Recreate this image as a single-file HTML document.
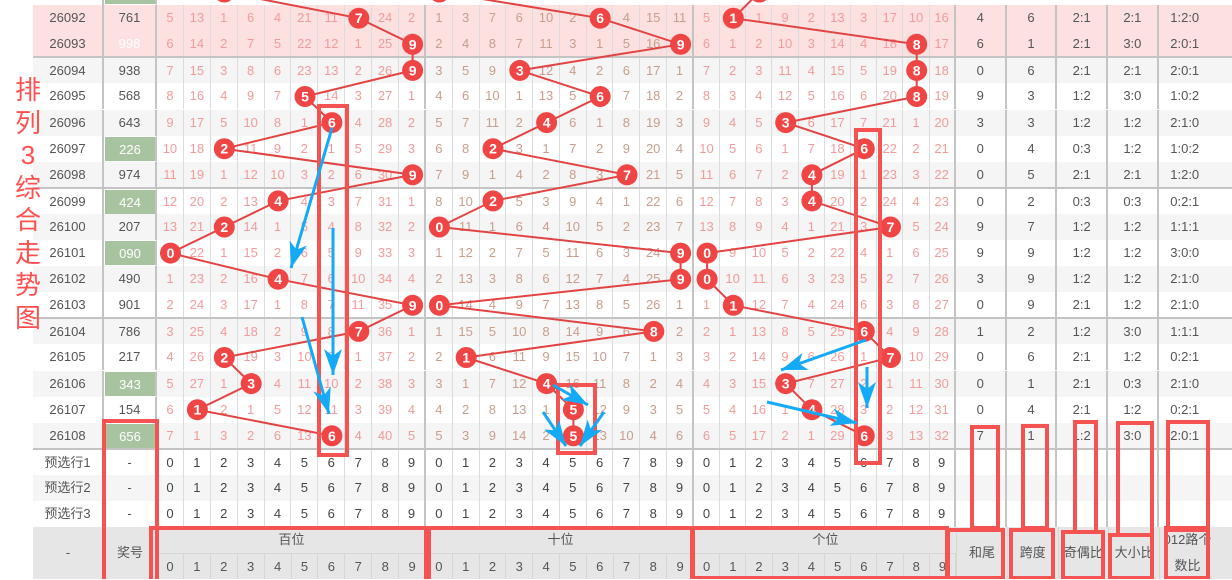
<!DOCTYPE html>
<html><head><meta charset="utf-8">
<style>
*{margin:0;padding:0}
body{width:1232px;height:579px;position:relative;overflow:hidden;background:#fff;font-family:"Liberation Sans","Noto Sans CJK SC",sans-serif}
.t{position:absolute;z-index:5;left:13px;top:74px;width:30px;color:#ff5050;font-size:26px;line-height:32.5px;text-align:center;font-family:"Liberation Sans","Noto Sans CJK SC",sans-serif}
.r{position:absolute;left:33px;width:1199px;height:26.1px;display:flex;font-size:13px;color:#555;background:#fff}
.r.g{background:#f5f5f5}.r.k{background:#fde1e1}.r.s{border-top:2px solid #c4c4c4;margin-top:-1px}
.r>i{font-style:normal;flex:none;text-align:center;line-height:26px;border-right:1px solid #dcdcdc;box-sizing:border-box;height:100%;white-space:nowrap}
.r>i:nth-child(1){width:71px;border-right:2px solid #c4c4c4}
.r>i:nth-child(2){width:53px;border-right:2px solid #c4c4c4}
.r>i:nth-child(n+3):nth-child(-n+12){width:26.9px;color:#f39b9b}
.r>i:nth-child(n+13):nth-child(-n+22){width:26.8px;color:#c89e8e}
.r>i:nth-child(n+23):nth-child(-n+32){width:26.2px;color:#f39b9b}
.r>i:nth-child(12),.r>i:nth-child(22),.r>i:nth-child(32){border-right:2px solid #c4c4c4}
.r>i:nth-child(33){width:51px;border-right:2px solid #c4c4c4}
.r>i:nth-child(34){width:50.6px;border-right:2px solid #c4c4c4}
.r>i:nth-child(35){width:50.7px;border-right:2px solid #c4c4c4}
.r>i:nth-child(36){width:50.7px;border-right:2px solid #c4c4c4}
.r>i:nth-child(37){width:73px;padding-right:21px;border-right:none}
.r.p>i:nth-child(n+3):nth-child(-n+32){color:#444}
.r>i.gr{background:#a8c3a0;color:#fff;border:1px solid #fff;border-right:2px solid #c4c4c4}
.r>i.w{color:#fff}
.h{position:absolute;left:33px;top:527px;width:1199px;height:52px;background:#e6e6e6;font-size:13px;color:#555}
.h div{position:absolute;text-align:center;box-sizing:border-box}
.sd{display:flex;position:absolute;top:26px;height:26px;border-top:1px solid #d6d6d6}
.sd span{flex:1;text-align:center;line-height:26px;border-right:1px solid #d6d6d6}
svg{position:absolute;left:0;top:0}
</style></head><body>
<div class="t">排<br>列<br>3<br>综<br>合<br>走<br>势<br>图</div>

<div class="r" style="top:-21px"><i>26091</i><i class="gr">202</i></div>
<div class="r k" style="top:5.1px"><i>26092</i><i>761</i><i>5</i><i>13</i><i>1</i><i>6</i><i>4</i><i>21</i><i>11</i><i></i><i>24</i><i>2</i><i>1</i><i>3</i><i>7</i><i>6</i><i>10</i><i>2</i><i></i><i>4</i><i>15</i><i>11</i><i>5</i><i></i><i>1</i><i>9</i><i>2</i><i>13</i><i>3</i><i>17</i><i>10</i><i>16</i><i>4</i><i>6</i><i>2:1</i><i>2:1</i><i>1:2:0</i></div>
<div class="r k" style="top:31.2px"><i>26093</i><i class="w">998</i><i>6</i><i>14</i><i>2</i><i>7</i><i>5</i><i>22</i><i>12</i><i>1</i><i>25</i><i></i><i>2</i><i>4</i><i>8</i><i>7</i><i>11</i><i>3</i><i>1</i><i>5</i><i>16</i><i></i><i>6</i><i>1</i><i>2</i><i>10</i><i>3</i><i>14</i><i>4</i><i>18</i><i></i><i>17</i><i>6</i><i>1</i><i>2:1</i><i>3:0</i><i>2:0:1</i></div>
<div class="r g s" style="top:57.3px"><i>26094</i><i>938</i><i>7</i><i>15</i><i>3</i><i>8</i><i>6</i><i>23</i><i>13</i><i>2</i><i>26</i><i></i><i>3</i><i>5</i><i>9</i><i></i><i>12</i><i>4</i><i>2</i><i>6</i><i>17</i><i>1</i><i>7</i><i>2</i><i>3</i><i>11</i><i>4</i><i>15</i><i>5</i><i>19</i><i></i><i>18</i><i>0</i><i>6</i><i>2:1</i><i>2:1</i><i>2:0:1</i></div>
<div class="r" style="top:83.4px"><i>26095</i><i>568</i><i>8</i><i>16</i><i>4</i><i>9</i><i>7</i><i></i><i>14</i><i>3</i><i>27</i><i>1</i><i>4</i><i>6</i><i>10</i><i>1</i><i>13</i><i>5</i><i></i><i>7</i><i>18</i><i>2</i><i>8</i><i>3</i><i>4</i><i>12</i><i>5</i><i>16</i><i>6</i><i>20</i><i></i><i>19</i><i>9</i><i>3</i><i>1:2</i><i>3:0</i><i>1:0:2</i></div>
<div class="r g" style="top:109.5px"><i>26096</i><i>643</i><i>9</i><i>17</i><i>5</i><i>10</i><i>8</i><i>1</i><i></i><i>4</i><i>28</i><i>2</i><i>5</i><i>7</i><i>11</i><i>2</i><i></i><i>6</i><i>1</i><i>8</i><i>19</i><i>3</i><i>9</i><i>4</i><i>5</i><i></i><i>6</i><i>17</i><i>7</i><i>21</i><i>1</i><i>20</i><i>3</i><i>3</i><i>1:2</i><i>1:2</i><i>2:1:0</i></div>
<div class="r" style="top:135.6px"><i>26097</i><i class="gr">226</i><i>10</i><i>18</i><i></i><i>11</i><i>9</i><i>2</i><i>1</i><i>5</i><i>29</i><i>3</i><i>6</i><i>8</i><i></i><i>3</i><i>1</i><i>7</i><i>2</i><i>9</i><i>20</i><i>4</i><i>10</i><i>5</i><i>6</i><i>1</i><i>7</i><i>18</i><i></i><i>22</i><i>2</i><i>21</i><i>0</i><i>4</i><i>0:3</i><i>1:2</i><i>1:0:2</i></div>
<div class="r g" style="top:161.7px"><i>26098</i><i>974</i><i>11</i><i>19</i><i>1</i><i>12</i><i>10</i><i>3</i><i>2</i><i>6</i><i>30</i><i></i><i>7</i><i>9</i><i>1</i><i>4</i><i>2</i><i>8</i><i>3</i><i></i><i>21</i><i>5</i><i>11</i><i>6</i><i>7</i><i>2</i><i></i><i>19</i><i>1</i><i>23</i><i>3</i><i>22</i><i>0</i><i>5</i><i>2:1</i><i>2:1</i><i>1:2:0</i></div>
<div class="r s" style="top:187.8px"><i>26099</i><i class="gr">424</i><i>12</i><i>20</i><i>2</i><i>13</i><i></i><i>4</i><i>3</i><i>7</i><i>31</i><i>1</i><i>8</i><i>10</i><i></i><i>5</i><i>3</i><i>9</i><i>4</i><i>1</i><i>22</i><i>6</i><i>12</i><i>7</i><i>8</i><i>3</i><i></i><i>20</i><i>2</i><i>24</i><i>4</i><i>23</i><i>0</i><i>2</i><i>0:3</i><i>0:3</i><i>0:2:1</i></div>
<div class="r g" style="top:213.9px"><i>26100</i><i>207</i><i>13</i><i>21</i><i></i><i>14</i><i>1</i><i>5</i><i>4</i><i>8</i><i>32</i><i>2</i><i></i><i>11</i><i>1</i><i>6</i><i>4</i><i>10</i><i>5</i><i>2</i><i>23</i><i>7</i><i>13</i><i>8</i><i>9</i><i>4</i><i>1</i><i>21</i><i>3</i><i></i><i>5</i><i>24</i><i>9</i><i>7</i><i>1:2</i><i>1:2</i><i>1:1:1</i></div>
<div class="r" style="top:240px"><i>26101</i><i class="gr">090</i><i></i><i>22</i><i>1</i><i>15</i><i>2</i><i>6</i><i>5</i><i>9</i><i>33</i><i>3</i><i>1</i><i>12</i><i>2</i><i>7</i><i>5</i><i>11</i><i>6</i><i>3</i><i>24</i><i></i><i></i><i>9</i><i>10</i><i>5</i><i>2</i><i>22</i><i>4</i><i>1</i><i>6</i><i>25</i><i>9</i><i>9</i><i>1:2</i><i>1:2</i><i>3:0:0</i></div>
<div class="r g" style="top:266.1px"><i>26102</i><i>490</i><i>1</i><i>23</i><i>2</i><i>16</i><i></i><i>7</i><i>6</i><i>10</i><i>34</i><i>4</i><i>2</i><i>13</i><i>3</i><i>8</i><i>6</i><i>12</i><i>7</i><i>4</i><i>25</i><i></i><i></i><i>10</i><i>11</i><i>6</i><i>3</i><i>23</i><i>5</i><i>2</i><i>7</i><i>26</i><i>3</i><i>9</i><i>1:2</i><i>1:2</i><i>2:1:0</i></div>
<div class="r" style="top:292.2px"><i>26103</i><i>901</i><i>2</i><i>24</i><i>3</i><i>17</i><i>1</i><i>8</i><i>7</i><i>11</i><i>35</i><i></i><i></i><i>14</i><i>4</i><i>9</i><i>7</i><i>13</i><i>8</i><i>5</i><i>26</i><i>1</i><i>1</i><i></i><i>12</i><i>7</i><i>4</i><i>24</i><i>6</i><i>3</i><i>8</i><i>27</i><i>0</i><i>9</i><i>2:1</i><i>1:2</i><i>2:1:0</i></div>
<div class="r g s" style="top:318.3px"><i>26104</i><i>786</i><i>3</i><i>25</i><i>4</i><i>18</i><i>2</i><i>9</i><i>8</i><i></i><i>36</i><i>1</i><i>1</i><i>15</i><i>5</i><i>10</i><i>8</i><i>14</i><i>9</i><i>6</i><i></i><i>2</i><i>2</i><i>1</i><i>13</i><i>8</i><i>5</i><i>25</i><i></i><i>4</i><i>9</i><i>28</i><i>1</i><i>2</i><i>1:2</i><i>3:0</i><i>1:1:1</i></div>
<div class="r" style="top:344.4px"><i>26105</i><i>217</i><i>4</i><i>26</i><i></i><i>19</i><i>3</i><i>10</i><i>9</i><i>1</i><i>37</i><i>2</i><i>2</i><i></i><i>6</i><i>11</i><i>9</i><i>15</i><i>10</i><i>7</i><i>1</i><i>3</i><i>3</i><i>2</i><i>14</i><i>9</i><i>6</i><i>26</i><i>1</i><i></i><i>10</i><i>29</i><i>0</i><i>6</i><i>2:1</i><i>1:2</i><i>0:2:1</i></div>
<div class="r g" style="top:370.5px"><i>26106</i><i class="gr">343</i><i>5</i><i>27</i><i>1</i><i></i><i>4</i><i>11</i><i>10</i><i>2</i><i>38</i><i>3</i><i>3</i><i>1</i><i>7</i><i>12</i><i></i><i>16</i><i>11</i><i>8</i><i>2</i><i>4</i><i>4</i><i>3</i><i>15</i><i></i><i>7</i><i>27</i><i>2</i><i>1</i><i>11</i><i>30</i><i>0</i><i>1</i><i>2:1</i><i>0:3</i><i>2:1:0</i></div>
<div class="r" style="top:396.6px"><i>26107</i><i>154</i><i>6</i><i></i><i>2</i><i>1</i><i>5</i><i>12</i><i>11</i><i>3</i><i>39</i><i>4</i><i>4</i><i>2</i><i>8</i><i>13</i><i>1</i><i></i><i>12</i><i>9</i><i>3</i><i>5</i><i>5</i><i>4</i><i>16</i><i>1</i><i></i><i>28</i><i>3</i><i>2</i><i>12</i><i>31</i><i>0</i><i>4</i><i>2:1</i><i>1:2</i><i>0:2:1</i></div>
<div class="r g" style="top:422.7px"><i>26108</i><i class="gr">656</i><i>7</i><i>1</i><i>3</i><i>2</i><i>6</i><i>13</i><i></i><i>4</i><i>40</i><i>5</i><i>5</i><i>3</i><i>9</i><i>14</i><i>2</i><i></i><i>13</i><i>10</i><i>4</i><i>6</i><i>6</i><i>5</i><i>17</i><i>2</i><i>1</i><i>29</i><i></i><i>3</i><i>13</i><i>32</i><i>7</i><i>1</i><i>1:2</i><i>3:0</i><i>2:0:1</i></div>
<div class="r p s" style="top:448.8px"><i>预选行1</i><i>-</i><i>0</i><i>1</i><i>2</i><i>3</i><i>4</i><i>5</i><i>6</i><i>7</i><i>8</i><i>9</i><i>0</i><i>1</i><i>2</i><i>3</i><i>4</i><i>5</i><i>6</i><i>7</i><i>8</i><i>9</i><i>0</i><i>1</i><i>2</i><i>3</i><i>4</i><i>5</i><i>6</i><i>7</i><i>8</i><i>9</i><i></i><i></i><i></i><i></i><i></i></div>
<div class="r p g" style="top:474.9px"><i>预选行2</i><i>-</i><i>0</i><i>1</i><i>2</i><i>3</i><i>4</i><i>5</i><i>6</i><i>7</i><i>8</i><i>9</i><i>0</i><i>1</i><i>2</i><i>3</i><i>4</i><i>5</i><i>6</i><i>7</i><i>8</i><i>9</i><i>0</i><i>1</i><i>2</i><i>3</i><i>4</i><i>5</i><i>6</i><i>7</i><i>8</i><i>9</i><i></i><i></i><i></i><i></i><i></i></div>
<div class="r p" style="top:501px"><i>预选行3</i><i>-</i><i>0</i><i>1</i><i>2</i><i>3</i><i>4</i><i>5</i><i>6</i><i>7</i><i>8</i><i>9</i><i>0</i><i>1</i><i>2</i><i>3</i><i>4</i><i>5</i><i>6</i><i>7</i><i>8</i><i>9</i><i>0</i><i>1</i><i>2</i><i>3</i><i>4</i><i>5</i><i>6</i><i>7</i><i>8</i><i>9</i><i></i><i></i><i></i><i></i><i></i></div>

<div class="h">
<div style="left:0;width:71px;top:0;line-height:52px;border-right:1px solid #d6d6d6;height:52px">-</div>
<div style="left:71px;width:53px;top:0;line-height:52px;border-right:1px solid #d6d6d6;height:52px">奖号</div>
<div style="left:124px;width:269px;top:0;line-height:26px">百位</div>
<div class="sd" style="left:124px;width:269px"><span>0</span><span>1</span><span>2</span><span>3</span><span>4</span><span>5</span><span>6</span><span>7</span><span>8</span><span>9</span></div>
<div style="left:393px;width:268px;top:0;line-height:26px;border-left:1px solid #d6d6d6;height:26px">十位</div>
<div class="sd" style="left:393px;width:268px"><span>0</span><span>1</span><span>2</span><span>3</span><span>4</span><span>5</span><span>6</span><span>7</span><span>8</span><span>9</span></div>
<div style="left:661px;width:262px;top:0;line-height:26px;border-left:1px solid #d6d6d6;height:26px">个位</div>
<div class="sd" style="left:661px;width:262px"><span>0</span><span>1</span><span>2</span><span>3</span><span>4</span><span>5</span><span>6</span><span>7</span><span>8</span><span>9</span></div>
<div style="left:923px;width:51px;top:0;line-height:52px;border-left:1px solid #d6d6d6;height:52px">和尾</div>
<div style="left:974px;width:50.6px;top:0;line-height:52px;border-left:1px solid #d6d6d6;height:52px">跨度</div>
<div style="left:1024.6px;width:50.7px;top:0;line-height:52px;border-left:1px solid #d6d6d6;height:52px">奇偶比</div>
<div style="left:1075.3px;width:50.7px;top:0;line-height:52px;border-left:1px solid #d6d6d6;height:52px">大小比</div>
<div style="left:1126px;width:56px;top:0;line-height:26px;border-left:1px solid #d6d6d6;height:52px">012路个<br>数比</div>
</div>

<svg width="1232" height="579" viewBox="0 0 1232 579">
<defs><marker id="ah" markerUnits="userSpaceOnUse" markerWidth="28" markerHeight="20" refX="26" refY="10" orient="auto"><path d="M0,1 L26,10 L0,19 L7,10 z" fill="#14aaf5"/></marker></defs>
<g fill="none" stroke="#e24444" stroke-width="2">
<polyline points="224.3,-8 358.8,18.2 412.6,44.3 412.6,70.4 305,96.5 331.9,122.6 224.3,148.7 412.6,174.8 278.1,200.9 224.3,227 170.5,253.1 278.1,279.2 412.6,305.3 358.8,331.4 224.3,357.5 251.2,383.6 197.4,409.7 331.9,435.8"/>
<polyline points="439.4,-8 600.2,18.2 680.6,44.3 519.8,70.4 600.2,96.5 546.6,122.6 493,148.7 627,174.8 493,200.9 439.4,227 680.6,253.1 680.6,279.2 439.4,305.3 653.8,331.4 466.2,357.5 546.6,383.6 573.4,409.7 573.4,435.8"/>
<polyline points="759.5,-8 733.3,18.2 916.7,44.3 916.7,70.4 916.7,96.5 785.7,122.6 864.3,148.7 811.9,174.8 811.9,200.9 890.5,227 707.1,253.1 707.1,279.2 733.3,305.3 864.3,331.4 890.5,357.5 785.7,383.6 811.9,409.7 864.3,435.8"/>
</g>
<g fill="#f04545">
<circle cx="224.3" cy="-8" r="10.5"/><circle cx="358.8" cy="18.2" r="10.5"/><circle cx="412.6" cy="44.3" r="10.5"/><circle cx="412.6" cy="70.4" r="10.5"/><circle cx="305" cy="96.5" r="10.5"/><circle cx="331.9" cy="122.6" r="10.5"/><circle cx="224.3" cy="148.7" r="10.5"/><circle cx="412.6" cy="174.8" r="10.5"/><circle cx="278.1" cy="200.9" r="10.5"/><circle cx="224.3" cy="227" r="10.5"/><circle cx="170.5" cy="253.1" r="10.5"/><circle cx="278.1" cy="279.2" r="10.5"/><circle cx="412.6" cy="305.3" r="10.5"/><circle cx="358.8" cy="331.4" r="10.5"/><circle cx="224.3" cy="357.5" r="10.5"/><circle cx="251.2" cy="383.6" r="10.5"/><circle cx="197.4" cy="409.7" r="10.5"/><circle cx="331.9" cy="435.8" r="10.5"/>
<circle cx="439.4" cy="-8" r="10.5"/><circle cx="600.2" cy="18.2" r="10.5"/><circle cx="680.6" cy="44.3" r="10.5"/><circle cx="519.8" cy="70.4" r="10.5"/><circle cx="600.2" cy="96.5" r="10.5"/><circle cx="546.6" cy="122.6" r="10.5"/><circle cx="493" cy="148.7" r="10.5"/><circle cx="627" cy="174.8" r="10.5"/><circle cx="493" cy="200.9" r="10.5"/><circle cx="439.4" cy="227" r="10.5"/><circle cx="680.6" cy="253.1" r="10.5"/><circle cx="680.6" cy="279.2" r="10.5"/><circle cx="439.4" cy="305.3" r="10.5"/><circle cx="653.8" cy="331.4" r="10.5"/><circle cx="466.2" cy="357.5" r="10.5"/><circle cx="546.6" cy="383.6" r="10.5"/><circle cx="573.4" cy="409.7" r="10.5"/><circle cx="573.4" cy="435.8" r="10.5"/>
<circle cx="759.5" cy="-8" r="10.5"/><circle cx="733.3" cy="18.2" r="10.5"/><circle cx="916.7" cy="44.3" r="10.5"/><circle cx="916.7" cy="70.4" r="10.5"/><circle cx="916.7" cy="96.5" r="10.5"/><circle cx="785.7" cy="122.6" r="10.5"/><circle cx="864.3" cy="148.7" r="10.5"/><circle cx="811.9" cy="174.8" r="10.5"/><circle cx="811.9" cy="200.9" r="10.5"/><circle cx="890.5" cy="227" r="10.5"/><circle cx="707.1" cy="253.1" r="10.5"/><circle cx="707.1" cy="279.2" r="10.5"/><circle cx="733.3" cy="305.3" r="10.5"/><circle cx="864.3" cy="331.4" r="10.5"/><circle cx="890.5" cy="357.5" r="10.5"/><circle cx="785.7" cy="383.6" r="10.5"/><circle cx="811.9" cy="409.7" r="10.5"/><circle cx="864.3" cy="435.8" r="10.5"/>
</g>
<g fill="#fff" font-family="Liberation Sans, sans-serif" font-size="14" font-weight="bold" text-anchor="middle">
<text x="358.8" y="23.2">7</text><text x="412.6" y="49.3">9</text><text x="412.6" y="75.4">9</text><text x="305" y="101.5">5</text><text x="331.9" y="127.6">6</text><text x="224.3" y="153.7">2</text><text x="412.6" y="179.8">9</text><text x="278.1" y="205.9">4</text><text x="224.3" y="232">2</text><text x="170.5" y="258.1">0</text><text x="278.1" y="284.2">4</text><text x="412.6" y="310.3">9</text><text x="358.8" y="336.4">7</text><text x="224.3" y="362.5">2</text><text x="251.2" y="388.6">3</text><text x="197.4" y="414.7">1</text><text x="331.9" y="440.8">6</text>
<text x="600.2" y="23.2">6</text><text x="680.6" y="49.3">9</text><text x="519.8" y="75.4">3</text><text x="600.2" y="101.5">6</text><text x="546.6" y="127.6">4</text><text x="493" y="153.7">2</text><text x="627" y="179.8">7</text><text x="493" y="205.9">2</text><text x="439.4" y="232">0</text><text x="680.6" y="258.1">9</text><text x="680.6" y="284.2">9</text><text x="439.4" y="310.3">0</text><text x="653.8" y="336.4">8</text><text x="466.2" y="362.5">1</text><text x="546.6" y="388.6">4</text><text x="573.4" y="414.7">5</text><text x="573.4" y="440.8">5</text>
<text x="733.3" y="23.2">1</text><text x="916.7" y="49.3">8</text><text x="916.7" y="75.4">8</text><text x="916.7" y="101.5">8</text><text x="785.7" y="127.6">3</text><text x="864.3" y="153.7">6</text><text x="811.9" y="179.8">4</text><text x="811.9" y="205.9">4</text><text x="890.5" y="232">7</text><text x="707.1" y="258.1">0</text><text x="707.1" y="284.2">0</text><text x="733.3" y="310.3">1</text><text x="864.3" y="336.4">6</text><text x="890.5" y="362.5">7</text><text x="785.7" y="388.6">3</text><text x="811.9" y="414.7">4</text><text x="864.3" y="440.8">6</text>
</g>
<g fill="none" stroke="#f55252" stroke-width="4">
<rect x="319" y="106" width="28" height="349"/>
<rect x="558" y="385" width="37" height="68"/>
<rect x="856" y="130" width="24" height="333"/>
<rect x="104" y="421" width="53" height="165"/>
<rect x="151" y="528" width="275" height="55"/>
<rect x="429" y="528" width="264" height="55"/>
<rect x="692" y="528" width="255" height="50"/>
<rect x="972" y="427" width="26" height="101"/><rect x="948" y="530" width="55" height="48"/>
<rect x="1023" y="426" width="24" height="102"/><rect x="1011" y="530" width="42" height="48"/>
<rect x="1075" y="422" width="21" height="110"/><rect x="1063" y="532" width="40" height="46"/>
<rect x="1118" y="423" width="34" height="112"/><rect x="1110" y="535" width="42" height="43"/>
<rect x="1168" y="422" width="40" height="108"/><rect x="1166" y="528" width="42" height="50"/>
</g>
<g stroke="#14aaf5" stroke-width="3" marker-end="url(#ah)">
<line x1="332" y1="128" x2="291" y2="268"/>
<line x1="333" y1="228" x2="333" y2="375"/>
<line x1="302" y1="317" x2="329" y2="414"/>
<line x1="553" y1="385" x2="588" y2="405"/>
<line x1="543" y1="412" x2="566" y2="446"/>
<line x1="604" y1="412" x2="580" y2="446"/>
<line x1="866" y1="340" x2="781" y2="370"/>
<line x1="867" y1="367" x2="867" y2="408"/>
<line x1="767" y1="402" x2="857" y2="423"/>
</g>
</svg>
</body></html>
